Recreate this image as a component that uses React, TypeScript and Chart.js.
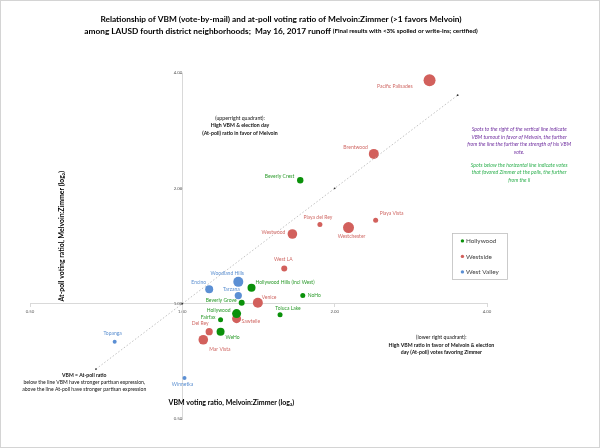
import React, { useEffect, useRef } from "react";
import { Chart, registerables } from "chart.js";

Chart.register(...registerables);

// ---------- data ----------
const hollywoodNames = ["Beverly Crest", "Hollywood Hills (incl West)", "NoHo", "Beverly Grove", "Toluca Lake", "Hollywood", "Fairfax", "WeHo"];
const hollywoodVbm = [1.71, 1.37, 1.73, 1.31, 1.56, 1.28, 1.19, 1.19];
const hollywoodPoll = [2.1, 1.1, 1.05, 1.006, 0.936, 0.942, 0.908, 0.845];
const hollywoodWeight = [3.2, 4, 2.5, 3, 2.5, 4.5, 2.5, 4];

const westsideNames = ["Pacific Palisades", "Brentwood", "Playa del Rey", "Westchester", "Playa Vista", "Westwood", "West LA", "Venice", "Sawtelle", "Del Rey", "Mar Vista"];
const westsideVbm = [3.08, 2.39, 1.87, 2.13, 2.41, 1.65, 1.59, 1.41, 1.28, 1.13, 1.1];
const westsidePoll = [3.83, 2.46, 1.61, 1.58, 1.65, 1.52, 1.235, 1.006, 0.914, 0.845, 0.805];
const westsideWeight = [6, 5, 2.5, 5.5, 2.5, 4.8, 3, 5, 4.5, 3.6, 4.8];

const westValleyNames = ["Woodland Hills", "Encino", "Tarzana", "Topanga", "Winnetka"];
const westValleyVbm = [1.29, 1.13, 1.29, 0.735, 1.01];
const westValleyPoll = [1.14, 1.09, 1.05, 0.795, 0.64];
const westValleyWeight = [5, 4, 3.6, 2, 2];

const equalityLine = [0.675, 1, 2, 3.5];
const xTicks = [0.5, 1, 2, 4];
const yTicks = [0.5, 1, 2, 4];

const TITLE1 = "Relationship of VBM (vote-by-mail) and at-poll voting ratio of Melvoin:Zimmer (>1 favors Melvoin)";
const TITLE2A = "among LAUSD fourth district neighborhoods;  May 16, 2017 runoff ";
const TITLE2B = "(Final results with <3% spoiled or write-ins; certified)";
const X_TITLE = "VBM voting ratio, Melvoin:Zimmer (log\u2082)";
const Y_TITLE = "At-poll voting ratiol, Melvoin:Zimmer (log\u2082)";

// ---------- styles / placement ----------
const FONT = "Lato, 'Open Sans', sans-serif";
const GREEN = "#0a910a";
const RED = "#d2605c";
const BLUE = "#5b8fd4";
const PURPLE = "#7030a0";
const NOTE_GREEN = "#2fb050";

const labelPlacement: Record<string, [number, number, CanvasTextAlign]> = {
  "Pacific Palisades": [-17, 6, "right"],
  "Brentwood": [-6, -6, "right"],
  "Beverly Crest": [-6, -4, "right"],
  "Playa del Rey": [-2, -7, "center"],
  "Westchester": [3, 9, "center"],
  "Playa Vista": [4, -7, "left"],
  "Westwood": [-7, -2, "right"],
  "West LA": [-1, -9, "center"],
  "Woodland Hills": [-11, -8, "center"],
  "Encino": [-3, -7, "right"],
  "Hollywood Hills (incl West)": [4, -5, "left"],
  "Tarzana": [-7, -6, "center"],
  "NoHo": [5, 0, "left"],
  "Beverly Grove": [-5, -2, "right"],
  "Venice": [4, -5, "left"],
  "Toluca Lake": [8, -6, "center"],
  "Hollywood": [-6, -3, "right"],
  "Sawtelle": [5, 3, "left"],
  "Fairfax": [-5, -2, "right"],
  "Del Rey": [-9, -8, "center"],
  "WeHo": [5, 6, "left"],
  "Mar Vista": [6, 10, "left"],
  "Topanga": [-2, -8, "center"],
  "Winnetka": [-2, 6, "center"],
};

type Seg = { t: string; b?: boolean; i?: boolean };

function drawBlock(ctx: CanvasRenderingContext2D, lines: Seg[], cx: number, cy: number, size: number, lh: number, color: string) {
  ctx.fillStyle = color;
  ctx.textAlign = "center";
  ctx.textBaseline = "middle";
  lines.forEach((ln, k) => {
    ctx.font = `${ln.i ? "italic " : ""}${ln.b ? "bold " : ""}${size}px ${FONT}`;
    ctx.fillText(ln.t, cx, cy + k * lh);
  });
}

const overlayPlugin = {
  id: "overlay",
  afterDraw(chart: any) {
    const ctx: CanvasRenderingContext2D = chart.ctx;
    const xs = chart.scales.x;
    const ys = chart.scales.y;
    const px = (v: number) => xs.getPixelForValue(v);
    const py = (v: number) => ys.getPixelForValue(v);
    ctx.save();

    // outer frame
    ctx.strokeStyle = "#d4d4d4";
    ctx.lineWidth = 1;
    ctx.strokeRect(0.5, 0.5, chart.width - 1, chart.height - 1);

    // point labels
    chart.data.datasets.forEach((ds: any, i: number) => {
      if (!ds.names) return;
      const meta = chart.getDatasetMeta(i);
      meta.data.forEach((el: any, j: number) => {
        const name = ds.names[j];
        const [dx, dy, align] = labelPlacement[name] || [4, 0, "left"];
        ctx.font = `5px ${FONT}`;
        ctx.fillStyle = ds.labelColor;
        ctx.textAlign = align;
        ctx.textBaseline = "middle";
        ctx.fillText(name, el.x + dx, el.y + dy);
      });
    });

    // title
    const tcx = 281;
    ctx.fillStyle = "#000";
    ctx.textBaseline = "middle";
    ctx.textAlign = "center";
    ctx.font = `bold 8.3px ${FONT}`;
    ctx.fillText(TITLE1, tcx, 19);
    ctx.font = `bold 8.3px ${FONT}`;
    const wa = ctx.measureText(TITLE2A).width;
    ctx.font = `bold 6.2px ${FONT}`;
    const wb = ctx.measureText(TITLE2B).width;
    const start = tcx - (wa + wb) / 2;
    ctx.textAlign = "left";
    ctx.font = `bold 8.3px ${FONT}`;
    ctx.fillText(TITLE2A, start, 31);
    ctx.font = `bold 6.2px ${FONT}`;
    ctx.fillText(TITLE2B, start + wa, 31.5);

    // axis titles
    ctx.textAlign = "center";
    ctx.font = `bold 7px ${FONT}`;
    ctx.fillText(X_TITLE, px(1.25), py(0.55));
    ctx.save();
    ctx.translate(px(0.578), py(1.5));
    ctx.rotate(-Math.PI / 2);
    ctx.font = `bold 6.9px ${FONT}`;
    ctx.fillText(Y_TITLE, 0, 0);
    ctx.restore();

    // annotations
    drawBlock(ctx, [
      { t: "(upperright quadrant):" },
      { t: "High VBM & election day", b: true },
      { t: "(At-poll) ratio in favor of Melvoin", b: true },
    ], px(1.3), py(3.05), 5.2, 7.5, "#111");

    drawBlock(ctx, [
      { t: "Spots to the right of the vertical line indicate", i: true },
      { t: "VBM turnout in favor of Melvoin, the further", i: true },
      { t: "from the line the further the strength of his VBM", i: true },
      { t: "vote.", i: true },
    ], px(4.63), py(2.85), 5.2, 7.6, PURPLE);

    drawBlock(ctx, [
      { t: "Spots below the horizontal line indicate votes", i: true },
      { t: "that favored Zimmer at the polls, the further", i: true },
      { t: "from the li", i: true },
    ], px(4.63), py(2.3), 5.2, 7.6, NOTE_GREEN);

    drawBlock(ctx, [
      { t: "(lower right quadrant):" },
      { t: "High VBM ratio in favor of Melvoin & election", b: true },
      { t: "day (At-poll) votes favoring Zimmer", b: true },
    ], px(3.25), py(0.815), 5.2, 7.2, "#111");

    drawBlock(ctx, [
      { t: "VBM = At-poll ratio", b: true },
      { t: "below the line VBM have stronger partisan expression," },
      { t: "above the line At-poll have stronger partisan expression" },
    ], px(0.64), py(0.648), 5.1, 6.6, "#111");

    // legend
    const lx = px(3.41);
    const ly = py(1.53);
    ctx.strokeStyle = "#bfbfbf";
    ctx.lineWidth = 0.8;
    ctx.strokeRect(lx + 0.5, ly + 0.5, 55, 46);
    const groups = chart.data.datasets.filter((d: any) => d.names);
    groups.forEach((d: any, k: number) => {
      const yy = ly + 8.5 + k * 15.5;
      ctx.fillStyle = d.backgroundColor;
      ctx.beginPath();
      ctx.arc(lx + 10.5, yy - 0.5, 1.7, 0, Math.PI * 2);
      ctx.fill();
      ctx.fillStyle = "#404040";
      ctx.textAlign = "left";
      ctx.textBaseline = "middle";
      ctx.font = `6.4px ${FONT}`;
      ctx.fillText(d.label, lx + 14, yy);
    });

    ctx.restore();
  },
};

function toPoints(xv: number[], yv: number[], w: number[]) {
  return xv.map((x, i) => ({ x, y: yv[i], r: w[i] }));
}

export default function App() {
  const ref = useRef<HTMLCanvasElement | null>(null);

  useEffect(() => {
    if (!ref.current) return;
    const tickFont = { size: 4.3, family: FONT };
    const chart = new Chart(ref.current, {
      type: "bubble",
      data: {
        datasets: [
          {
            type: "line",
            label: "VBM = At-poll",
            data: equalityLine.map((v) => ({ x: v, y: v })),
            borderColor: "#a6a6a6",
            borderWidth: 0.7,
            borderDash: [1.5, 2],
            pointRadius: 0.9,
            pointBackgroundColor: "#333",
            pointBorderWidth: 0,
            fill: false,
          } as any,
          {
            label: "Hollywood",
            names: hollywoodNames,
            labelColor: "#2a9a2a",
            data: toPoints(hollywoodVbm, hollywoodPoll, hollywoodWeight),
            backgroundColor: GREEN,
            borderWidth: 0,
          } as any,
          {
            label: "Westside",
            names: westsideNames,
            labelColor: "#d06a66",
            data: toPoints(westsideVbm, westsidePoll, westsideWeight),
            backgroundColor: RED,
            borderWidth: 0,
          } as any,
          {
            label: "West Valley",
            names: westValleyNames,
            labelColor: "#5b8fd0",
            data: toPoints(westValleyVbm, westValleyPoll, westValleyWeight),
            backgroundColor: BLUE,
            borderWidth: 0,
          } as any,
        ],
      },
      options: {
        responsive: true,
        maintainAspectRatio: false,
        animation: false,
        events: [],
        layout: { padding: { left: 30, right: 113, top: 73, bottom: 29 } },
        plugins: {
          legend: { display: false },
          title: { display: false },
          tooltip: { enabled: false },
        },
        scales: {
          x: {
            type: "logarithmic",
            min: 0.5,
            max: 4,
            position: { y: 1 } as any,
            afterBuildTicks: (s: any) => {
              s.ticks = xTicks.map((v) => ({ value: v }));
            },
            ticks: {
              callback: (v: any) => Number(v).toFixed(2),
              font: tickFont,
              color: "#595959",
              autoSkip: false,
              maxRotation: 0,
              padding: 2,
            },
            grid: { drawOnChartArea: false, drawTicks: true, tickLength: 3, color: "#d9d9d9" },
            border: { color: "#d9d9d9", width: 1 },
          },
          y: {
            type: "logarithmic",
            min: 0.5,
            max: 4,
            position: { x: 1 } as any,
            afterBuildTicks: (s: any) => {
              s.ticks = yTicks.map((v) => ({ value: v }));
            },
            ticks: {
              callback: (v: any) => Number(v).toFixed(2),
              font: tickFont,
              color: "#595959",
              autoSkip: false,
              padding: 2,
            },
            grid: { drawOnChartArea: false, drawTicks: true, tickLength: 3, color: "#d9d9d9" },
            border: { color: "#d9d9d9", width: 1 },
          },
        },
      },
      plugins: [overlayPlugin],
    } as any);
    return () => chart.destroy();
  }, []);

  return (
    <div style={{ position: "fixed", left: 0, top: 0, width: 600, height: 448, background: "#fff" }}>
      <canvas ref={ref} />
    </div>
  );
}
